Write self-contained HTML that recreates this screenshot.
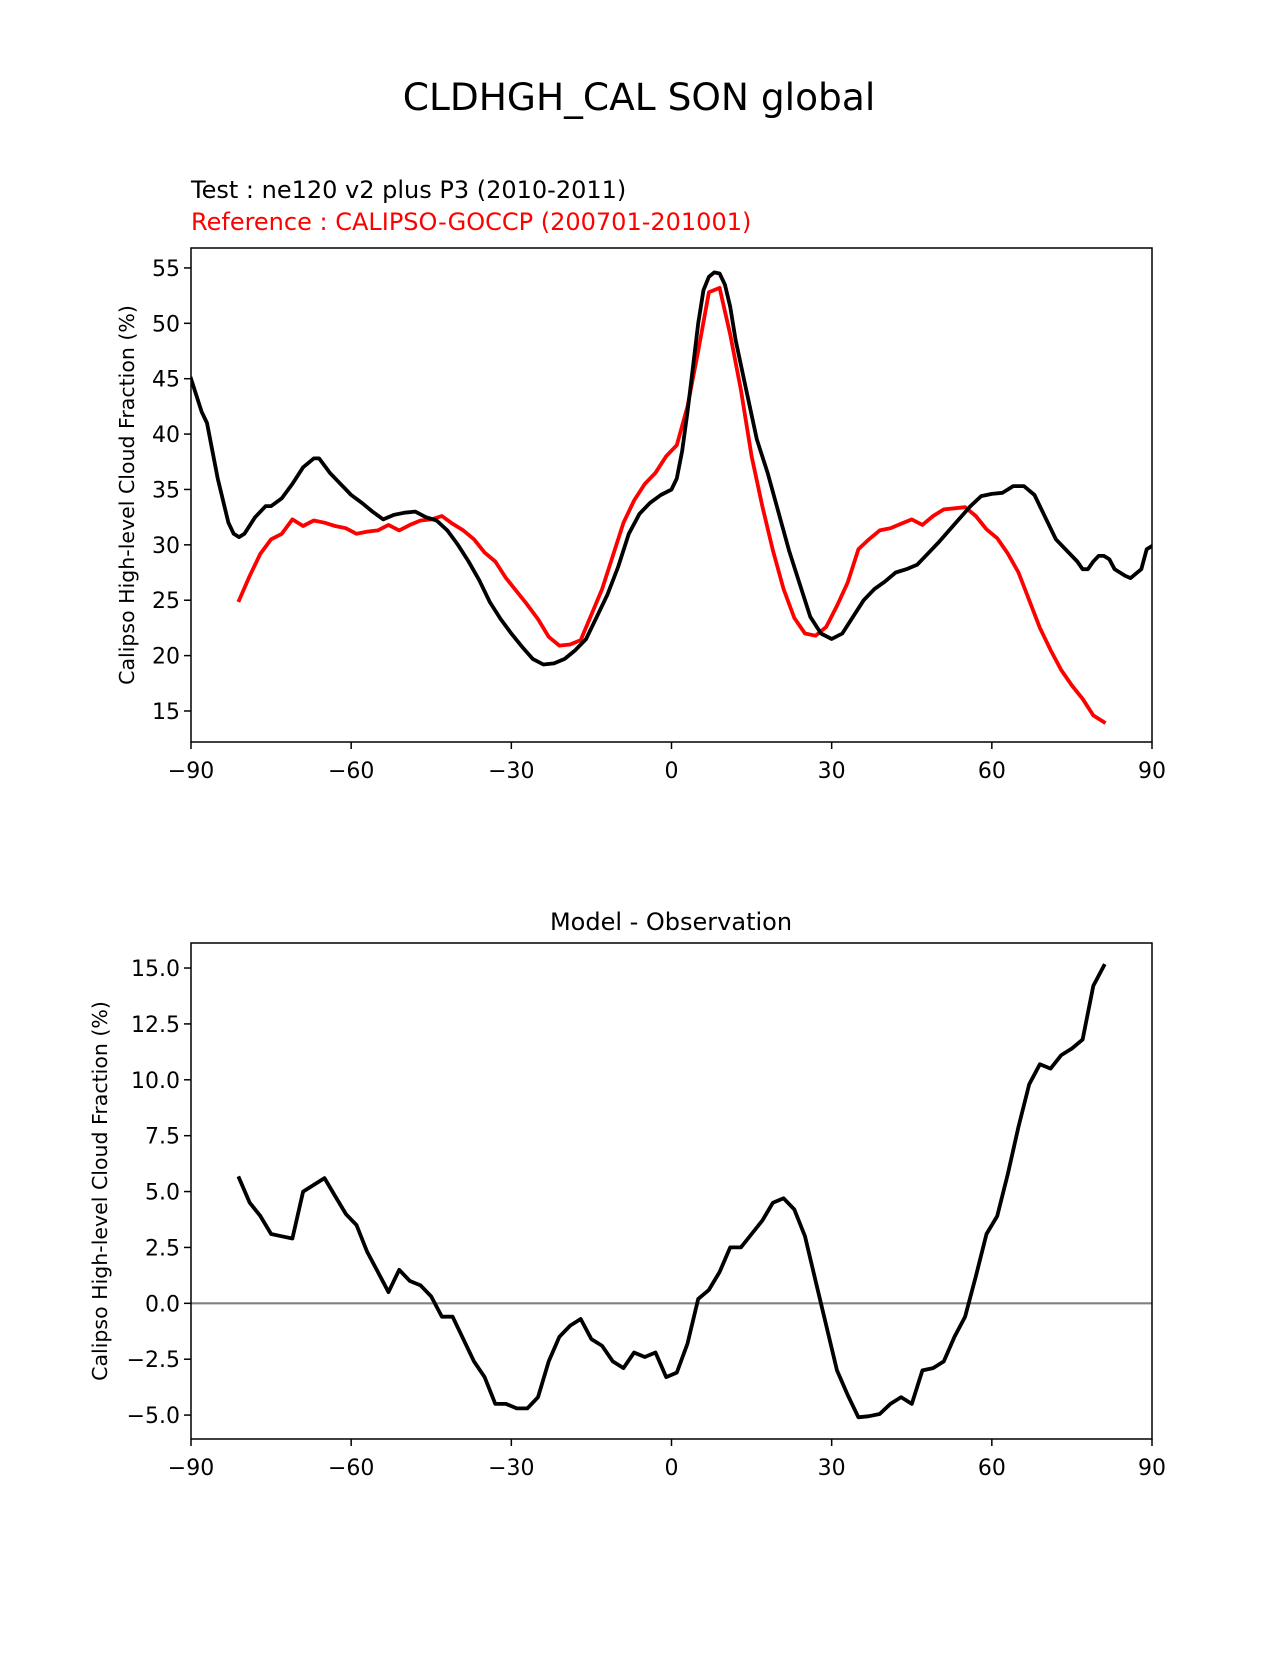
<!DOCTYPE html>
<html><head><meta charset="utf-8"><style>
body{margin:0;background:#fff}
svg text{font-family:"DejaVu Sans","Liberation Sans",sans-serif}
</style></head><body>
<svg id="fig" width="1275" height="1650" xmlns="http://www.w3.org/2000/svg">
<rect width="1275" height="1650" fill="#fff"/>
<text x="639" y="110" font-size="37.5" text-anchor="middle">CLDHGH_CAL SON global</text>
<text x="191" y="198" font-size="24">Test : ne120 v2 plus P3 (2010-2011)</text>
<text x="191" y="230" font-size="24" fill="#ff0000">Reference : CALIPSO-GOCCP (200701-201001)</text>
<text x="671" y="930" font-size="24" text-anchor="middle">Model - Observation</text>
<g id="topPanel"></g><g id="botPanel"></g>
</svg>
<script>
const testLat=[-90,-88,-87,-85,-83,-82,-81,-80,-78,-76,-75,-73,-71,-69,-67,-66,-64,-62,-60,-58,-56,-54,-52,-50,-48,-46,-44,-42,-40,-38,-36,-34,-32,-30,-28,-26,-24,-22,-20,-18,-16,-14,-12,-10,-8,-6,-4,-2,0,1,2,3,4,5,6,7,8,9,10,11,12,14,16,18,20,22,24,26,28,30,32,34,36,38,40,42,44,46,48,50,52,54,56,58,60,62,64,66,68,70,72,74,76,77,78,79,80,81,82,83,85,86,88,89,90];
const testVal=[45,42,41,36,32,31,30.7,31,32.5,33.5,33.5,34.2,35.5,37,37.8,37.8,36.5,35.5,34.5,33.8,33,32.3,32.7,32.9,33,32.5,32.2,31.3,30,28.5,26.8,24.8,23.3,22,20.8,19.7,19.2,19.3,19.7,20.5,21.5,23.5,25.5,28,31,32.8,33.8,34.5,35,36,38.5,42,46,50,53,54.2,54.6,54.5,53.5,51.5,48.5,44,39.5,36.5,33,29.5,26.5,23.5,22,21.5,22,23.5,25,26,26.7,27.5,27.8,28.2,29.2,30.2,31.3,32.4,33.5,34.4,34.6,34.7,35.3,35.3,34.5,32.5,30.5,29.5,28.5,27.8,27.8,28.5,29,29,28.7,27.8,27.2,27,27.8,29.6,29.9];
const refLat=[-81,-79,-77,-75,-73,-71,-69,-67,-65,-63,-61,-59,-57,-55,-53,-51,-49,-47,-45,-43,-41,-39,-37,-35,-33,-31,-29,-27,-25,-23,-21,-19,-17,-15,-13,-11,-9,-7,-5,-3,-1,1,3,5,7,9,11,13,15,17,19,21,23,25,27,29,31,33,35,37,39,41,43,45,47,49,51,53,55,57,59,61,63,65,67,69,71,73,75,77,79,81];
const refVal=[25,27.2,29.2,30.5,31,32.3,31.7,32.2,32,31.7,31.5,31,31.2,31.3,31.8,31.3,31.8,32.2,32.3,32.6,31.9,31.3,30.5,29.3,28.5,27,25.8,24.6,23.3,21.7,20.9,21,21.4,23.7,26,29,32,34,35.5,36.5,38,39,42.5,47.5,52.8,53.2,49,44,38,33.5,29.5,26,23.4,22,21.8,22.6,24.5,26.6,29.6,30.5,31.3,31.5,31.9,32.3,31.8,32.6,33.2,33.3,33.4,32.6,31.4,30.6,29.2,27.5,25,22.5,20.5,18.7,17.3,16.1,14.6,14];
const diffVal=[5.6,4.5,3.9,3.1,3.0,2.9,5.0,5.3,5.6,4.8,4.0,3.5,2.3,1.4,0.5,1.5,1.0,0.8,0.3,-0.6,-0.6,-1.6,-2.6,-3.3,-4.5,-4.5,-4.7,-4.7,-4.2,-2.6,-1.5,-1.0,-0.7,-1.6,-1.9,-2.6,-2.9,-2.2,-2.4,-2.2,-3.3,-3.1,-1.8,0.2,0.6,1.4,2.5,2.5,3.1,3.7,4.5,4.7,4.2,3.0,1.0,-1.0,-3.0,-4.1,-5.1,-5.05,-4.95,-4.5,-4.2,-4.5,-3.0,-2.9,-2.6,-1.5,-0.6,1.2,3.1,3.9,5.8,7.9,9.8,10.7,10.5,11.1,11.4,11.8,14.2,15.1];
const xTicks=[-90,-60,-30,0,30,60,90];
const topYTicks=[15,20,25,30,35,40,45,50,55];
const botYTicks=[-5,-2.5,0,2.5,5,7.5,10,12.5,15];
const NS='http://www.w3.org/2000/svg';
function mk(p,t,a){const e=document.createElementNS(NS,t);for(const k in a)e.setAttribute(k,a[k]);p.appendChild(e);return e;}
function fmtX(v){return v<0?'\u2212'+(-v):''+v;}
function panel(g,L,T,R,B,ymin,ymax,yt,fmtY,ylab,labx){
 const sx=v=>L+(v+90)/180*(R-L), sy=v=>B-(v-ymin)/(ymax-ymin)*(B-T);
 xTicks.forEach(v=>{const x=sx(v);
  const t=mk(g,'line',{x1:x,x2:x,y1:B,y2:B+7,stroke:'#000','stroke-width':1.5});
  
  
  const l=mk(g,'text',{x:x,y:B+36,'font-size':22,'text-anchor':'middle'});l.textContent=fmtX(v);
  
  });
 yt.forEach(v=>{const y=sy(v);
  const t=mk(g,'line',{x1:L-7,x2:L,y1:y,y2:y,stroke:'#000','stroke-width':1.5});
  
  
  const l=mk(g,'text',{x:L-11,y:y+8,'font-size':22,'text-anchor':'end'});l.textContent=fmtY(v);
  
  });
 const yl=mk(g,'text',{x:labx,y:(T+B)/2,'font-size':20.5,'text-anchor':'middle',transform:`rotate(-90 ${labx} ${(T+B)/2})`});
 yl.textContent=ylab;
 
 
 return {sx,sy};
}
function line(g,sx,sy,xs,ys,c,name){
 const p=mk(g,'polyline',{points:xs.map((x,i)=>sx(x).toFixed(1)+','+sy(ys[i]).toFixed(1)).join(' '),fill:'none',stroke:c,'stroke-width':3.8,'stroke-linejoin':'round','stroke-linecap':'square'});
 
 
}
const topG=document.getElementById('topPanel'),botG=document.getElementById('botPanel');
const a=panel(topG,191,248,1152,742,12.2,56.8,topYTicks,v=>''+v,'Calipso High-level Cloud Fraction (%)',134);
const cp=mk(topG,'clipPath',{id:'c1'});mk(cp,'rect',{x:191,y:248,width:961,height:494});
const lg=mk(topG,'g',{'clip-path':'url(#c1)'});
line(lg,a.sx,a.sy,refLat,refVal,'#ff0000','reference-line');
line(lg,a.sx,a.sy,testLat,testVal,'#000','test-line');
const f1=mk(topG,'rect',{x:191,y:248,width:961,height:494,fill:'none',stroke:'#000','stroke-width':1.5});


const b=panel(botG,191,943,1152,1439,-6.07,16.12,botYTicks,v=>(v<0?'\u2212':'')+Math.abs(v).toFixed(1),'Calipso High-level Cloud Fraction (%)',107);
const z=mk(botG,'line',{x1:191,x2:1152,y1:b.sy(0),y2:b.sy(0),stroke:'#808080','stroke-width':2.2});


line(botG,b.sx,b.sy,refLat,diffVal,'#000','difference-line');
const f2=mk(botG,'rect',{x:191,y:943,width:961,height:496,fill:'none',stroke:'#000','stroke-width':1.5});


</script>
</body></html>
